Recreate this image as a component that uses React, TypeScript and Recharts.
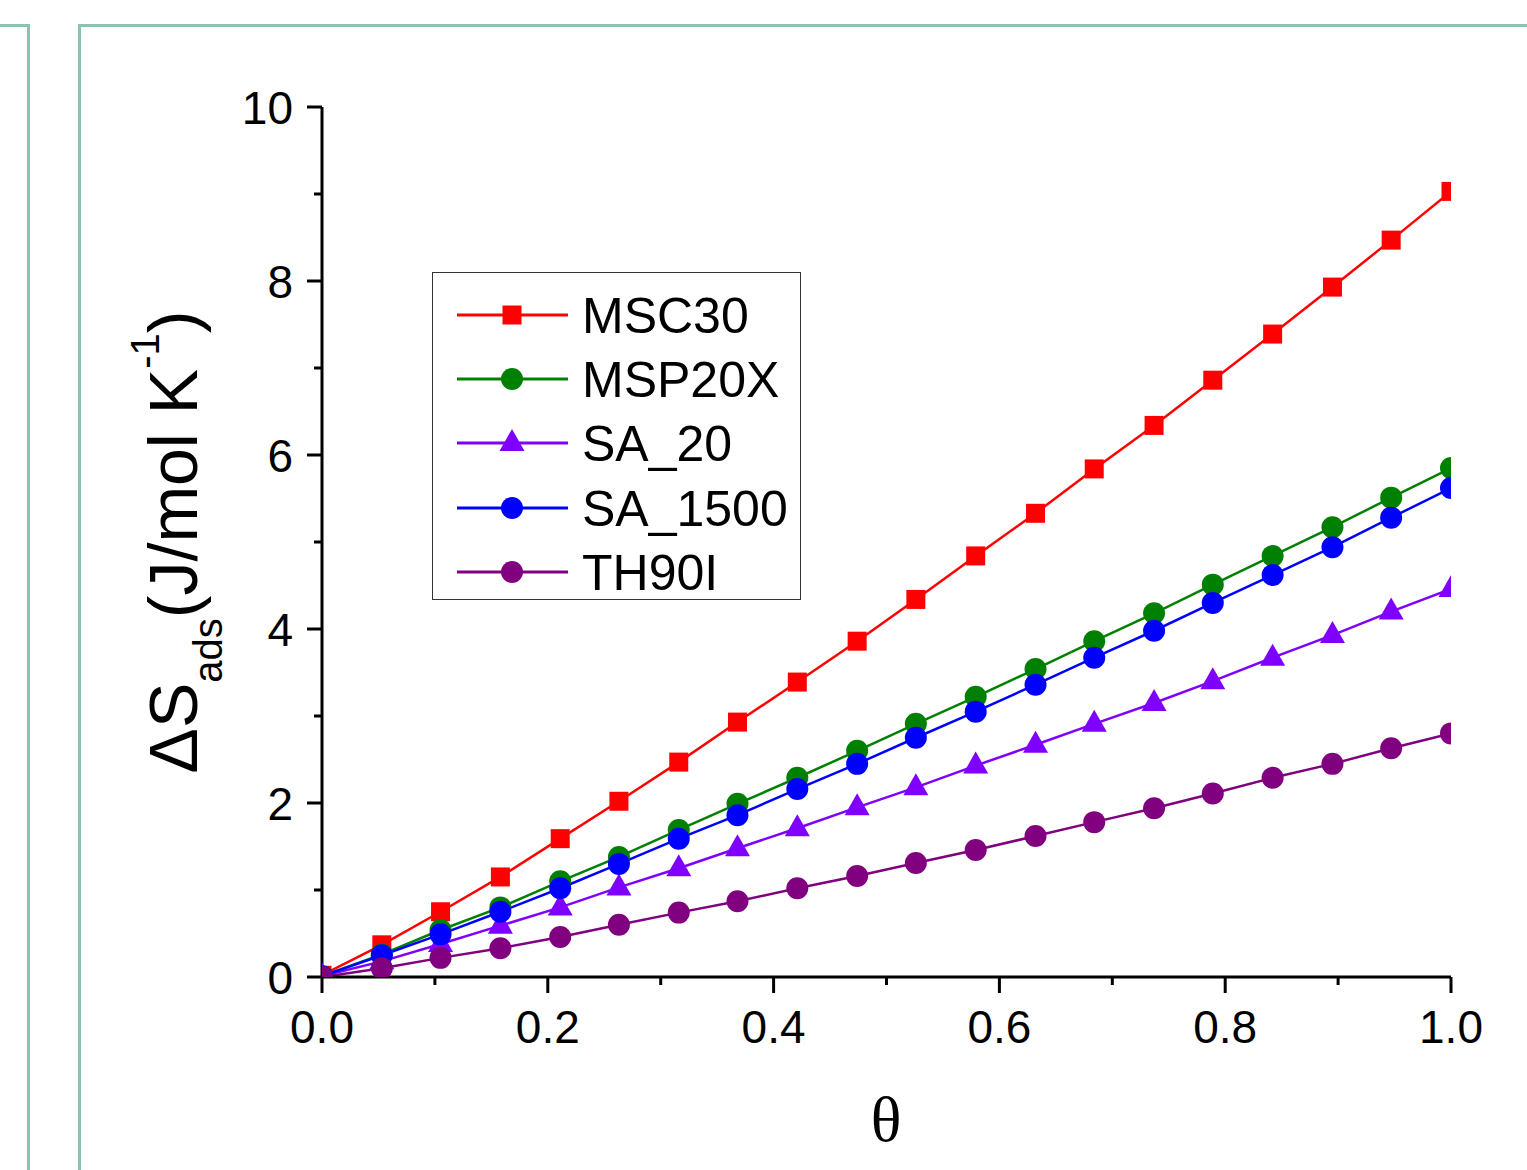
import React from 'react';
import { LineChart, Line, XAxis, YAxis, Legend } from 'recharts';

const theta = [0, 0.053, 0.105, 0.158, 0.211, 0.263, 0.316, 0.368, 0.421, 0.474, 0.526, 0.579, 0.632, 0.684, 0.737, 0.789, 0.842, 0.895, 0.947, 1.0];
const msc30 = [0.02, 0.37, 0.75, 1.15, 1.59, 2.02, 2.47, 2.93, 3.39, 3.86, 4.34, 4.84, 5.33, 5.84, 6.34, 6.86, 7.39, 7.93, 8.47, 9.03];
const msp20x = [0.01, 0.26, 0.54, 0.8, 1.1, 1.38, 1.69, 1.99, 2.29, 2.6, 2.91, 3.22, 3.54, 3.86, 4.18, 4.51, 4.84, 5.17, 5.51, 5.85];
const sa20 = [0.01, 0.18, 0.38, 0.59, 0.8, 1.03, 1.25, 1.48, 1.71, 1.95, 2.18, 2.43, 2.67, 2.91, 3.15, 3.4, 3.67, 3.93, 4.2, 4.46];
const sa1500 = [0.01, 0.25, 0.49, 0.75, 1.02, 1.3, 1.59, 1.86, 2.16, 2.45, 2.75, 3.05, 3.36, 3.67, 3.98, 4.3, 4.62, 4.94, 5.28, 5.62];
const th90i = [0.0, 0.1, 0.22, 0.33, 0.46, 0.6, 0.74, 0.87, 1.02, 1.16, 1.31, 1.46, 1.62, 1.78, 1.94, 2.11, 2.29, 2.45, 2.63, 2.8];

const seriesNames = ['MSC30', 'MSP20X', 'SA_20', 'SA_1500', 'TH90I'];
const seriesValues = [msc30, msp20x, sa20, sa1500, th90i];
const seriesColors = ['#ff0000', '#008000', '#8000ff', '#0000ff', '#800080'];
const seriesShapes = ['square', 'circle', 'triangle', 'circle', 'circle'];

const xTicks = [0, 0.1, 0.2, 0.3, 0.4, 0.5, 0.6, 0.7, 0.8, 0.9, 1.0];
const xTickLabels = ['0.0', '0.2', '0.4', '0.6', '0.8', '1.0'];
const yTicks = [0, 1, 2, 3, 4, 5, 6, 7, 8, 9, 10];
const yTickLabels = ['0', '2', '4', '6', '8', '10'];

const data = theta.map((t, i) => {
  const row: Record<string, number> = { theta: t };
  seriesNames.forEach((n, s) => { row[n] = seriesValues[s][i]; });
  return row;
});

const FONT = '"Liberation Sans", Arial, sans-serif';
const AXIS_W = 3;

function Marker({ shape, cx, cy, color }: { shape: string; cx: number; cy: number; color: string }) {
  if (shape === 'square') {
    return <rect x={cx - 9.5} y={cy - 9.5} width={19} height={19} fill={color} />;
  }
  if (shape === 'triangle') {
    return <polygon points={`${cx},${cy - 14} ${cx - 12.5},${cy + 8} ${cx + 12.5},${cy + 8}`} fill={color} />;
  }
  return <circle cx={cx} cy={cy} r={11} fill={color} />;
}

const XTick = (props: any) => {
  const { x, y, payload } = props;
  const idx = xTicks.indexOf(payload.value);
  const major = idx % 2 === 0;
  return (
    <g>
      <line x1={x} x2={x} y1={y} y2={y + (major ? 16 : 8)} stroke="#000" strokeWidth={3} />
      {major && (
        <text x={x} y={y + 66} textAnchor="middle" fontSize={46} fontFamily={FONT} fill="#000">
          {xTickLabels[idx / 2]}
        </text>
      )}
    </g>
  );
};

const YTick = (props: any) => {
  const { x, y, payload } = props;
  const idx = yTicks.indexOf(payload.value);
  const major = idx % 2 === 0;
  return (
    <g>
      <line x1={x - (major ? 15 : 8)} x2={x} y1={y} y2={y} stroke="#000" strokeWidth={3} />
      {major && (
        <text x={x - 29} y={y + 16.5} textAnchor="end" fontSize={46} fontFamily={FONT} fill="#000">
          {yTickLabels[idx / 2]}
        </text>
      )}
    </g>
  );
};

const rowY = [43, 107, 171, 236, 300];

const LegendBox = () => (
  <svg width={370} height={329} style={{ display: 'block' }}>
    <rect x={0.5} y={0.5} width={368} height={327} fill="#fff" stroke="#333" strokeWidth={1} />
    {seriesNames.map((n, i) => (
      <g key={n}>
        <line x1={25} x2={136} y1={rowY[i]} y2={rowY[i]} stroke={seriesColors[i]} strokeWidth={3} />
        <Marker shape={seriesShapes[i]} cx={80} cy={rowY[i]} color={seriesColors[i]} />
        <text x={150} y={rowY[i] + 18} fontSize={50} fontFamily={FONT} fill="#000">{n}</text>
      </g>
    ))}
  </svg>
);

export default function App() {
  const green = '#88c5b1';
  return (
    <div style={{ position: 'absolute', left: 0, top: 0, width: 1527, height: 1170, background: '#fff', overflow: 'hidden' }}>
      <div style={{ position: 'absolute', left: 0, top: 24, width: 29, height: 3, background: green }} />
      <div style={{ position: 'absolute', left: 27, top: 24, width: 3, height: 1146, background: green }} />
      <div style={{ position: 'absolute', left: 78, top: 24, width: 1449, height: 3, background: green }} />
      <div style={{ position: 'absolute', left: 78, top: 24, width: 3, height: 1146, background: green }} />
      <div style={{ position: 'absolute', left: 0, top: 0 }}>
        <LineChart width={1527} height={1170} data={data} margin={{ top: 107, right: 76, bottom: 113, left: 222 }}>
          <XAxis
            dataKey="theta"
            type="number"
            domain={[0, 1]}
            ticks={xTicks}
            interval={0}
            allowDataOverflow
            height={80}
            tickSize={0}
            tickMargin={0}
            tickLine={false}
            tick={<XTick />}
            stroke="#000"
            strokeWidth={AXIS_W}
            axisLine={{ stroke: '#000', strokeWidth: AXIS_W }}
          />
          <XAxis xAxisId="top" orientation="top" type="number" domain={[0, 1]} height={0} tick={false} tickLine={false} stroke="#000" strokeWidth={AXIS_W} axisLine={{ stroke: '#000', strokeWidth: AXIS_W }} />
          <YAxis
            type="number"
            domain={[0, 10]}
            ticks={yTicks}
            interval={0}
            allowDataOverflow
            width={100}
            tickSize={0}
            tickMargin={0}
            tickLine={false}
            tick={<YTick />}
            stroke="#000"
            strokeWidth={AXIS_W}
            axisLine={{ stroke: '#000', strokeWidth: AXIS_W }}
          />
          <YAxis yAxisId="right" orientation="right" type="number" domain={[0, 10]} width={0} tick={false} tickLine={false} stroke="#000" strokeWidth={AXIS_W} axisLine={{ stroke: '#000', strokeWidth: AXIS_W }} />
          <Legend
            layout="vertical"
            align="center"
            verticalAlign="middle"
            wrapperStyle={{ left: 432, top: 272, width: 370, height: 329 }}
            content={() => <LegendBox />}
          />
          {seriesNames.map((n, i) => (
            <Line
              key={n}
              dataKey={n}
              name={n}
              stroke={seriesColors[i]}
              strokeWidth={2.5}
              isAnimationActive={false}
              dot={(p: any) => <Marker key={`${n}-${p.index}`} shape={seriesShapes[i]} cx={p.cx} cy={p.cy} color={seriesColors[i]} />}
              activeDot={false}
            />
          ))}
        </LineChart>
      </div>
      <svg width={1527} height={1170} style={{ position: 'absolute', left: 0, top: 0, pointerEvents: 'none' }}>
        <text transform="translate(197,542) rotate(-90)" textAnchor="middle" fontSize={68} fontFamily={FONT} fill="#000">
          <tspan>ΔS</tspan>
          <tspan fontSize={40} dy={25}>ads</tspan>
          <tspan dy={-25}>(J/mol K</tspan>
          <tspan fontSize={40} dy={-38}>-1</tspan>
          <tspan dy={38}>)</tspan>
        </text>
        <text x={886} y={1141} textAnchor="middle" fontSize={64} fontFamily='"Liberation Serif", "DejaVu Serif", serif' fill="#000">θ</text>
      </svg>
    </div>
  );
}
